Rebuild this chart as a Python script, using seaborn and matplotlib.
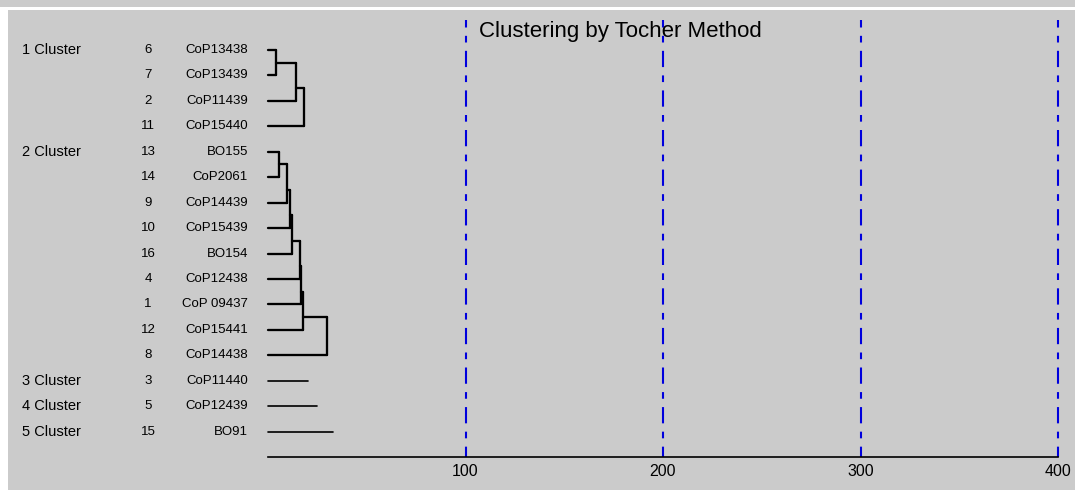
import numpy as np
import pandas as pd
import matplotlib.pyplot as plt
from matplotlib.patches import Rectangle
import seaborn as sns

# ---------------- DATA ----------------
cluster_labels = ["1 Cluster", "2 Cluster", "3 Cluster", "4 Cluster", "5 Cluster"]
cluster_sizes = [4, 9, 1, 1, 1]
genotype_ids = [6, 7, 2, 11, 13, 14, 9, 10, 16, 4, 1, 12, 8, 3, 5, 15]
genotype_names = ["CoP13438", "CoP13439", "CoP11439", "CoP15440",
                  "BO155", "CoP2061", "CoP14439", "CoP15439", "BO154",
                  "CoP12438", "CoP 09437", "CoP15441", "CoP14438",
                  "CoP11440", "CoP12439", "BO91"]
# distance at which each member joins its cluster (first value = first pair)
cluster1_joins = [4.0, 14.2, 18.4]
cluster2_joins = [5.7, 9.6, 11.1, 12.4, 16.0, 16.7, 17.9, 30.0]
singleton_lengths = [20.1, 24.6, 32.8]
grid_ticks = [100, 200, 300, 400]
title = "Clustering by Tocher Method"

# ---------------- LAYOUT ----------------
W, H = 1075, 490
BG = "#cbcbcb"
PX_PER_UNIT = 1.975   # pixels per distance unit
X0_PX = 268           # pixel of distance 0
ROW_PX = 25.44        # pixels per row
ROW1_PX = 50          # pixel of first row

sns.set_theme(style="white")
plt.rcParams['font.family'] = ['Liberation Sans', 'DejaVu Sans']

rows = np.arange(1, len(genotype_ids) + 1)
starts = np.cumsum([0] + cluster_sizes[:-1])

# build dendrogram segments
segs = []


def add(x0, y0, x1, y1, kind):
    sid = len(segs)
    segs.append({"seg": sid, "x": x0, "y": y0, "kind": kind})
    segs.append({"seg": sid, "x": x1, "y": y1, "kind": kind})


def chain(rws, joins):
    gx, gy = 0, rws[0]
    for k, (r, h) in enumerate(zip(rws[1:], joins)):
        add(gx, gy, h, gy, "tree")
        add(0, r, h, r, "tree")
        add(h, gy, h, r, "tree")
        gy = (gy + r) / 2 if k == 0 else gy + (r - gy) * 2 / 3
        gx = h


chain(rows[starts[0]:starts[0] + cluster_sizes[0]], cluster1_joins)
chain(rows[starts[1]:starts[1] + cluster_sizes[1]], cluster2_joins)
for s, L in zip(starts[2:], singleton_lengths):
    add(0, rows[s], L, rows[s], "single")

df = pd.DataFrame(segs)

fig = plt.figure(figsize=(W / 100, H / 100), dpi=100, facecolor=BG)
ax = fig.add_axes([0, 0, 1, 1])
ax.set_facecolor(BG)

# blue dash-dot reference lines
top_row = 1 + (20 - ROW1_PX) / ROW_PX
axis_row = len(genotype_ids) + 1
for t in grid_ticks:
    ax.plot([t, t], [top_row, axis_row], color="#0000dd", lw=1.5,
            linestyle=(4.2, (7.8, 4.0, 3.2, 4.0)), dash_capstyle="butt",
            zorder=1)

sns.lineplot(data=df[df.kind == "tree"], x="x", y="y", units="seg",
             estimator=None, sort=False, color="black", lw=1.65, ax=ax,
             legend=False)
sns.lineplot(data=df[df.kind == "single"], x="x", y="y", units="seg",
             estimator=None, sort=False, color="black", lw=1.2, ax=ax,
             legend=False)

ax.set_xlim(-X0_PX / PX_PER_UNIT, (W - X0_PX) / PX_PER_UNIT)
ax.set_ylim(1 + (H - ROW1_PX) / ROW_PX, 1 - ROW1_PX / ROW_PX)
ax.set_xlabel("")
ax.set_ylabel("")

for sp in ["top", "left", "right"]:
    ax.spines[sp].set_visible(False)
ax.spines["bottom"].set_position(("data", axis_row))
ax.spines["bottom"].set_bounds(0, 400)
ax.spines["bottom"].set_color("black")
ax.spines["bottom"].set_linewidth(1.2)
ax.set_xticks(grid_ticks)
ax.set_xticklabels([str(t) for t in grid_ticks])
ax.tick_params(axis="x", length=0, pad=5, labelsize=11.5, colors="black")
ax.set_yticks([])

# row labels
for r, gid, name in zip(rows, genotype_ids, genotype_names):
    ax.text((148 - X0_PX) / PX_PER_UNIT, r, str(gid), ha="center", va="center",
            fontsize=9.5, color="black")
    ax.text((248 - X0_PX) / PX_PER_UNIT, r, name, ha="right", va="center",
            fontsize=9.5, color="black")
for s, lab in zip(starts, cluster_labels):
    ax.text((22 - X0_PX) / PX_PER_UNIT, rows[s], lab, ha="left", va="center",
            fontsize=10.5, color="black")

fig.text(620 / W, 1 - 32 / H, title, ha="center", va="center", fontsize=16,
         color="black")

# white page strips around the cropped figure
fig.add_artist(Rectangle((0, 1 - 10 / H), 1, 3.3 / H, transform=fig.transFigure,
                         color="white", lw=0))
fig.add_artist(Rectangle((0, 0), 8 / W, 1 - 10 / H, transform=fig.transFigure,
                         color="white", lw=0))

fig.savefig("out.png", dpi=100, facecolor=BG)
